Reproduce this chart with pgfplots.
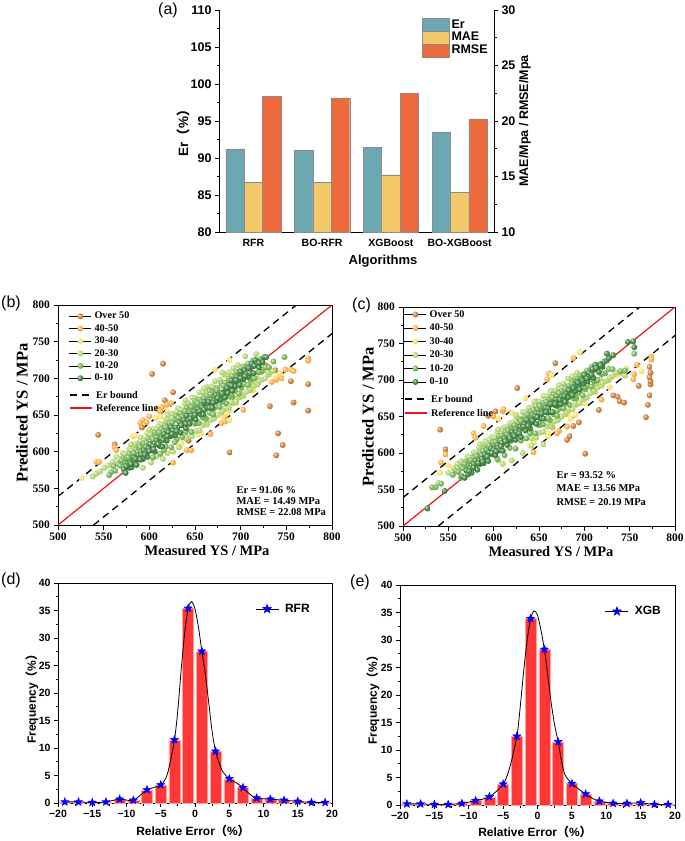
\documentclass[border=0pt]{standalone}
\usepackage{fontspec}
\setmainfont{Liberation Sans}
\newfontfamily\tnr{Liberation Serif}
\newfontfamily\cjk{Noto Sans CJK SC}
\usepackage{pgfplots}
\pgfplotsset{compat=1.18}

\definecolor{cEr}{RGB}{107,168,177}
\definecolor{cMAE}{RGB}{242,200,105}
\definecolor{cRMSE}{RGB}{236,106,60}
\definecolor{s1}{RGB}{190,105,30}
\definecolor{s2}{RGB}{246,160,40}
\definecolor{s3}{RGB}{250,218,85}
\definecolor{s4}{RGB}{165,205,90}
\definecolor{s5}{RGB}{95,165,55}
\definecolor{s6}{RGB}{30,110,30}
\definecolor{barred}{RGB}{255,55,55}
\definecolor{refred}{RGB}{240,20,20}
\colorlet{pgfballcol}{black}

\pgfdeclareradialshading[pgfballcol]{myball}{\pgfqpoint{-12bp}{12bp}}{%
  color(0bp)=(pgfballcol!15!white); color(12bp)=(pgfballcol!70!white);
  color(30bp)=(pgfballcol); color(50bp)=(pgfballcol!80!black); color(70bp)=(pgfballcol!80!black)}
\pgfdeclareplotmark{sball}{%
  \pgfpathcircle{\pgfpointorigin}{\pgfplotmarksize}%
  \pgfshadepath{myball}{0}%
  \pgfusepath{}}

\pgfdeclareplotmark{fstar}{%
  \pgfpathmoveto{\pgfpointpolar{90}{\pgfplotmarksize}}%
  \pgfpathlineto{\pgfpointpolar{126}{0.42\pgfplotmarksize}}%
  \pgfpathlineto{\pgfpointpolar{162}{\pgfplotmarksize}}%
  \pgfpathlineto{\pgfpointpolar{198}{0.42\pgfplotmarksize}}%
  \pgfpathlineto{\pgfpointpolar{234}{\pgfplotmarksize}}%
  \pgfpathlineto{\pgfpointpolar{270}{0.42\pgfplotmarksize}}%
  \pgfpathlineto{\pgfpointpolar{306}{\pgfplotmarksize}}%
  \pgfpathlineto{\pgfpointpolar{342}{0.42\pgfplotmarksize}}%
  \pgfpathlineto{\pgfpointpolar{18}{\pgfplotmarksize}}%
  \pgfpathlineto{\pgfpointpolar{54}{0.42\pgfplotmarksize}}%
  \pgfpathclose
  \pgfusepathqfillstroke}

\newcommand{\fwp}[1]{{\cjk （}#1{\cjk ）}}

\pgfplotsset{
 aSt/.style={scale only axis, width=275pt, height=222pt, at={(219pt,-232pt)}, anchor=south west,
   xmin=-0.5, xmax=3.5, tick align=outside, major tick length=4pt, minor tick length=2.5pt,
   /pgf/number format/assume math mode=true,
   ticklabel style={font=\fontsize{12.5}{14}\selectfont\bfseries},
   axis line style={line width=1pt}, every tick/.style={black, line width=0.8pt},
   ybar, bar width=18.4pt},
 lgbox/.style={legend image code/.code={\draw[##1] (0pt,-6.5pt) rectangle (27pt,6.5pt);}},
 sc/.style={scale only axis, width=274pt, height=220pt, xmin=500,xmax=800,ymin=500,ymax=800,
   xtick={500,550,...,800}, ytick={500,550,...,800}, minor tick num=1, tick align=outside,
   xtick pos=left, ytick pos=left, major tick length=4.5pt, minor tick length=2.5pt,
   /pgf/number format/assume math mode=true,
   ticklabel style={font=\tnr\bfseries\fontsize{11.5}{13}\selectfont},
   axis line style={line width=1pt}, every tick/.style={black, line width=0.8pt},
   legend cell align=left,
   legend style={draw=none, fill=none, anchor=north west, inner sep=0pt,
     font=\tnr\bfseries\fontsize{10.2}{11}\selectfont, nodes={inner sep=1pt}, column sep=2pt}},
 pts/.style={only marks, mark=sball, mark size=3pt, mark options={/utils/exec={\colorlet{pgfballcol}{#1}}},
   legend image code/.code={\path (0pt,0pt) -- (22pt,0pt);
     \draw[mark repeat=2,mark phase=2,##1] plot coordinates {(0pt,0pt)(11pt,0pt)(22pt,0pt)};}},
 hst/.style={scale only axis, height=220pt, xmin=-20, xmax=20, ymin=0, ymax=40,
   xtick={-20,-15,...,20}, xticklabels={−20,−15,−10,−5,0,5,10,15,20},
   ytick={0,5,...,40}, minor tick num=1, tick align=outside, xtick pos=left, ytick pos=left,
   major tick length=4pt, minor tick length=2.5pt,
   /pgf/number format/assume math mode=true,
   ticklabel style={font=\fontsize{10.5}{12}\selectfont\bfseries},
   axis line style={line width=1pt}, every tick/.style={black, line width=0.8pt},
   legend image code/.code={\draw[mark repeat=2,mark phase=2,##1] plot coordinates {(0pt,0pt)(11.5pt,0pt)(23pt,0pt)};},
   legend style={draw=none, fill=none, anchor=west, inner sep=0pt,
     font=\fontsize{12}{14}\selectfont\bfseries, nodes={inner sep=0pt}, column sep=6pt}},
 hbar/.style={ybar, bar width=1.6, fill=barred, draw=barred!45!white, line width=0.5pt, forget plot},
 hcur/.style={black, line width=0.8pt, smooth, mark=none, forget plot},
 hstar/.style={only marks, mark=fstar, mark size=4.3pt, mark options={fill=blue, draw=blue}, forget plot},
}

\begin{document}
\begin{tikzpicture}[x=1pt,y=1pt]
\useasboundingbox (0,0) rectangle (685,-841);

%================ (a)
\begin{axis}[aSt, ymin=80, ymax=110, ytick={80,85,...,110}, minor y tick num=1,
  axis y line*=left, axis x line*=bottom, xtick={0,1,2,3},
  xticklabels={RFR,BO-RFR,XGBoost,BO-XGBoost},
  x tick label style={font=\fontsize{10.5}{12}\selectfont\bfseries},
  major x tick style={draw=none}]
\addplot[fill=cEr, draw=black!45, bar shift=-18.4pt] coordinates {(0,91.25)(1,91.06)(2,91.45)(3,93.52)};
\end{axis}
\begin{axis}[aSt, ymin=10, ymax=30, ytick={10,15,...,30}, minor y tick num=1,
  axis y line*=right, axis x line=none,
  legend cell align=left,
  legend style={draw=none, fill=none, at={(axis description cs:0.738,0.966)}, anchor=north west,
    inner sep=0pt, font=\fontsize{12.5}{14}\selectfont\bfseries, nodes={inner sep=1pt}, row sep=-0.5pt, column sep=1pt}]
\addlegendimage{lgbox, fill=cEr, draw=black!45}
\addplot[lgbox, fill=cMAE, draw=black!45, bar shift=0pt] coordinates {(0,14.47)(1,14.49)(2,15.16)(3,13.56)};
\addplot[lgbox, fill=cRMSE, draw=black!45, bar shift=18.4pt] coordinates {(0,22.2)(1,22.08)(2,22.53)(3,20.19)};
\legend{Er,MAE,RMSE}
\end{axis}
\node[font=\fontsize{16}{18}\selectfont] at (168,-10) {(a)};
\node[rotate=90, font=\fontsize{13.5}{15}\selectfont\bfseries] at (183,-130) {Er\fwp{\%}};
\node[rotate=90, font=\fontsize{12.5}{15}\selectfont\bfseries] at (525,-121) {MAE/Mpa / RMSE/Mpa};
\node[font=\fontsize{13}{15}\selectfont\bfseries] at (383,-261) {Algorithms};

%================ (b)
\begin{axis}[sc, at={(58pt,-525pt)}, anchor=south west,
  legend style={at={(axis description cs:0.040,0.973)}, row sep=2.1pt}]
\addplot[pts=s1] coordinates {(615,720)(603,706)(544,623)(562,610)(626,681)(617,670)(643,615)(688,599)(695,667)(728,717)(732,662)(738,711)(741,625)(739,595)(746,609)(755,696)(758,667)(774,692)(774,656)(592,633)};
\addplot[pts=s2] coordinates {(542,586)(545,586)(562,606)(564,602)(590,639)(593,643)(597,640)(608,659)(614,661)(619,664)(624,666)(641,602)(646,602)(626,585)(679,639)(683,641)(686,643)(703,657)(695,671)(734,695)(739,698)(745,700)(749,712)(755,712)(758,710)(774,727)(774,724)(667,624)(600,648)(612,655)};
\addplot[pts=s3] coordinates {(526,564)(582,621)(585,622)(607,646)(688,725)(672,712)(634,607)(635,612)(654,624)(657,625)(681,648)(685,652)(688,657)(695,666)(714,684)(739,703)(743,707)(688,643)(612,648)(620,655)};
\addplot[pts=s4] coordinates {(538,566)(542,570)(546,573)(551,578)(555,581)(560,586)(564,593)(567,589)(571,598)(574,597)(578,604)(581,602)(584,610)(588,612)(591,619)(594,616)(598,625)(601,623)(604,631)(608,630)(611,638)(614,637)(618,644)(621,645)(625,652)(628,650)(632,659)(635,657)(639,665)(643,666)(647,674)(651,673)(655,681)(659,681)(663,688)(668,689)(672,696)(677,698)(682,705)(687,708)(692,714)(697,718)(642,620)(647,621)(651,628)(655,629)(659,636)(663,637)(667,643)(671,645)(675,650)(679,653)(683,659)(687,660)(691,666)(695,668)(699,674)(703,676)(707,682)(711,684)(715,690)(719,692)(723,698)(727,700)(731,705)(735,710)(713,695)(718,700)(709,688)(700,680)(602,585)(608,594)(615,590)(626,600)(705,730)(717,733)(721,716)(725,711)(593,578)(640,618)(620,598)(632,606)(580,610)(590,614)(600,630)(610,634)(620,650)(630,654)(640,670)(650,671)(660,686)(670,688)(680,708)(660,640)(670,650)(680,656)(690,668)(700,676)(710,686)(720,696)(730,708)};
\addplot[pts=s5] coordinates {(558,572)(561,580)(563,574)(566,583)(568,581)(571,591)(573,585)(575,591)(578,597)(580,591)(582,597)(585,603)(587,599)(589,609)(592,606)(594,611)(596,606)(599,618)(601,614)(603,619)(606,626)(608,619)(610,625)(613,631)(615,627)(617,636)(620,634)(622,639)(624,635)(627,643)(629,649)(631,644)(634,652)(636,648)(638,653)(641,660)(643,654)(645,662)(648,662)(650,669)(652,664)(655,671)(657,668)(660,675)(663,676)(666,683)(669,680)(672,686)(675,687)(679,694)(683,694)(687,700)(691,703)(695,709)(699,710)(703,716)(708,720)(713,724)(604,592)(612,597)(618,607)(624,606)(630,617)(636,620)(641,630)(646,627)(650,638)(654,639)(658,647)(662,645)(666,653)(670,651)(673,661)(677,661)(680,669)(684,666)(688,675)(691,675)(694,683)(698,679)(701,687)(704,692)(708,691)(711,698)(715,700)(719,708)(723,709)(727,715)(731,715)(736,723)(748,729)(556,568)(570,588)(577,592)(583,598)(590,606)(597,612)(604,617)(611,626)(618,633)(625,640)(632,646)(639,655)(646,661)(653,666)(660,672)(667,678)(674,684)(681,690)(688,697)(695,703)(702,709)(640,627)(650,640)(660,648)(670,658)(680,668)(690,678)(700,690)(710,700)(720,709)(628,613)(616,602)};
\addplot[pts=s6] coordinates {(572,576)(574,571)(576,584)(578,578)(579,585)(581,579)(583,592)(584,587)(586,582)(588,595)(589,590)(591,596)(593,590)(594,602)(596,598)(598,593)(599,605)(601,610)(603,602)(604,608)(606,600)(608,615)(609,611)(611,608)(613,618)(614,607)(616,624)(618,619)(619,615)(621,627)(623,621)(624,633)(626,629)(628,622)(629,633)(631,630)(633,640)(634,626)(636,638)(638,643)(639,635)(641,649)(643,643)(644,638)(646,649)(648,646)(649,655)(651,644)(653,654)(654,658)(656,651)(658,660)(659,651)(661,666)(663,660)(664,665)(666,660)(668,671)(669,660)(671,670)(673,677)(674,669)(676,676)(678,671)(679,681)(681,677)(683,674)(684,685)(686,680)(688,691)(689,686)(691,683)(693,695)(694,689)(696,702)(698,696)(699,691)(701,705)(703,699)(704,711)(706,706)(708,702)(709,714)(711,708)(713,719)(714,707)(716,725)(718,719)(720,715)(722,726)(724,722)(726,729)(728,729)(712,720)(700,709)(690,697)(660,668)(640,632)(575,580)(580,583)(585,590)(590,589)(595,596)(600,601)(605,603)(610,610)(615,616)(620,621)(625,624)(630,628)(635,636)(640,638)(645,645)(650,650)(655,655)(660,657)(665,668)(670,667)(675,673)(680,679)(685,687)(690,690)(695,697)(700,700)(705,703)(710,707)(715,717)(720,721)};
\addplot[black, line width=1.3pt, dash pattern=on 7pt off 5pt, forget plot] coordinates {(500,539)(761,800)};
\addplot[black, line width=1.3pt, dash pattern=on 7pt off 5pt, forget plot] coordinates {(539,500)(800,761)};
\addplot[refred, line width=1.2pt, forget plot] coordinates {(500,500)(800,800)};
\legend{Over 50,40-50,30-40,20-30,10-20,0-10}
\end{axis}
\draw[black, line width=1.3pt, dash pattern=on 7pt off 5pt] (70,-395) -- (92,-395);
\node[anchor=west, inner sep=0pt, font=\tnr\bfseries\fontsize{10.2}{11}\selectfont] at (96,-395) {Er bound};
\draw[refred, line width=1.3pt] (70,-408) -- (92,-408);
\node[anchor=west, inner sep=0pt, font=\tnr\bfseries\fontsize{10.2}{11}\selectfont] at (96,-408) {Reference line};
\node[font=\fontsize{16}{18}\selectfont] at (11,-303) {(b)};
\node[font=\tnr\bfseries\fontsize{14.5}{16}\selectfont] at (207,-551) {Measured YS / MPa};
\node[rotate=90, font=\tnr\bfseries\fontsize{16.5}{18}\selectfont] at (22,-413) {Predicted YS / MPa};
\node[anchor=west, font=\tnr\bfseries\fontsize{10.5}{12}\selectfont] at (233,-490) {Er = 91.06 \%};
\node[anchor=west, font=\tnr\bfseries\fontsize{10.5}{12}\selectfont] at (233,-501) {MAE = 14.49 MPa};
\node[anchor=west, font=\tnr\bfseries\fontsize{10.5}{12}\selectfont] at (233,-512) {RMSE = 22.08 MPa};

%================ (c)
\begin{axis}[sc, at={(403pt,-526pt)}, anchor=south west, width=272pt, height=219pt,
  legend style={at={(axis description cs:0.004,0.99)}, row sep=3.2pt}]
\addplot[pts=s1] coordinates {(541,632)(547,605)(594,651)(602,657)(626,689)(668,723)(701,599)(694,642)(681,618)(684,623)(688,637)(716,659)(732,679)(737,677)(739,671)(744,669)(768,649)(770,666)(772,679)(773,694)(773,698)(772,704)(773,710)(772,718)(760,692)};
\addplot[pts=s2] coordinates {(542,587)(547,598)(578,627)(580,621)(589,637)(610,657)(611,660)(659,701)(661,709)(688,730)(672,630)(670,627)(644,601)(719,673)(755,708)(754,701)(774,732)(774,728)(758,721)(600,650)(665,635)(681,636)};
\addplot[pts=s3] coordinates {(541,573)(550,583)(635,675)(664,707)(695,738)(644,614)(682,653)(685,647)(660,627)(660,623)(746,716)(728,690)(736,707)(763,712)(620,655)(605,647)(640,610)(700,668)(712,683)(690,652)};
\addplot[pts=s4] coordinates {(539,559)(550,573)(556,579)(560,585)(564,589)(567,586)(571,595)(574,594)(578,601)(581,599)(584,607)(588,609)(591,616)(594,613)(598,622)(601,620)(604,628)(608,627)(611,635)(614,634)(618,641)(621,642)(625,649)(628,647)(632,656)(635,654)(639,662)(643,663)(647,671)(651,670)(655,678)(659,678)(663,685)(668,686)(672,693)(677,695)(682,702)(687,705)(692,710)(642,620)(647,621)(651,628)(655,629)(659,636)(663,637)(667,643)(671,645)(675,650)(679,653)(683,659)(687,660)(691,666)(695,668)(699,674)(703,676)(707,682)(711,684)(715,690)(719,692)(723,698)(727,700)(731,705)(735,710)(713,695)(718,700)(709,688)(740,710)(745,706)(728,703)(610,585)(620,590)(632,600)(642,610)(655,612)(605,590)(585,612)(595,618)(605,632)(615,636)(625,652)(635,656)(645,670)(660,640)(670,650)(680,656)(690,668)(700,676)(710,686)(720,696)};
\addplot[pts=s5] coordinates {(555,570)(558,576)(561,574)(564,581)(566,579)(569,588)(571,583)(574,589)(577,594)(579,589)(582,595)(585,601)(587,597)(589,606)(592,604)(594,609)(596,605)(599,615)(601,612)(603,617)(606,623)(608,617)(610,623)(613,629)(615,625)(617,633)(620,632)(622,637)(624,633)(627,641)(629,646)(631,642)(634,650)(636,646)(638,651)(641,657)(643,652)(645,660)(648,660)(650,666)(652,662)(655,669)(657,666)(660,673)(663,674)(666,680)(669,678)(672,684)(675,685)(679,691)(683,692)(687,698)(691,701)(695,706)(699,708)(703,713)(708,718)(604,592)(612,597)(618,607)(624,606)(630,617)(636,620)(641,630)(646,627)(650,638)(654,639)(658,647)(662,645)(666,653)(670,651)(673,661)(677,661)(680,669)(684,666)(688,675)(691,675)(694,683)(698,679)(701,687)(704,692)(708,691)(711,698)(715,700)(719,708)(723,709)(727,715)(731,715)(740,712)(745,713)(755,736)(542,558)(536,553)(532,553)(564,566)(568,585)(575,590)(581,596)(588,603)(595,610)(602,615)(609,624)(616,631)(623,638)(630,644)(637,653)(644,659)(651,664)(658,670)(665,676)(672,682)(679,688)(686,695)(693,701)(700,707)(640,627)(650,640)(660,648)(670,658)(680,668)(690,678)(700,690)(710,700)(720,709)};
\addplot[pts=s6] coordinates {(565,568)(568,566)(570,576)(572,571)(574,579)(576,573)(578,585)(580,580)(582,577)(584,590)(585,585)(587,592)(589,586)(590,598)(592,594)(594,589)(595,601)(597,606)(599,598)(600,604)(602,597)(604,611)(605,607)(607,604)(609,614)(610,603)(612,620)(614,615)(615,611)(617,623)(619,617)(620,629)(622,625)(624,618)(625,629)(627,626)(629,636)(630,622)(632,634)(634,639)(635,631)(637,645)(639,639)(640,634)(642,645)(644,642)(645,651)(647,640)(649,650)(650,654)(652,647)(654,656)(655,647)(657,662)(659,656)(660,661)(662,656)(664,669)(665,656)(667,666)(669,673)(670,665)(672,672)(674,667)(675,677)(677,673)(679,670)(680,681)(682,676)(684,687)(685,682)(687,679)(689,691)(690,685)(692,698)(694,692)(695,687)(697,701)(699,695)(700,707)(702,702)(704,698)(705,710)(707,704)(709,715)(710,703)(712,721)(714,715)(716,711)(718,722)(720,718)(722,725)(725,727)(727,730)(725,736)(748,752)(754,753)(755,745)(732,734)(527,524)(546,548)(573,575)(578,580)(583,586)(588,588)(593,595)(598,600)(603,602)(608,609)(613,616)(618,620)(623,623)(628,627)(633,636)(638,637)(643,644)(648,649)(653,654)(658,656)(663,667)(668,667)(673,673)(678,678)(683,686)(688,689)(693,696)(698,699)(703,702)(708,707)(713,716)(718,720)};
\addplot[black, line width=1.3pt, dash pattern=on 7pt off 5pt, forget plot] coordinates {(500,539)(761,800)};
\addplot[black, line width=1.3pt, dash pattern=on 7pt off 5pt, forget plot] coordinates {(539,500)(800,761)};
\addplot[refred, line width=1.2pt, forget plot] coordinates {(500,500)(800,800)};
\legend{Over 50,40-50,30-40,20-30,10-20,0-10}
\end{axis}
\draw[black, line width=1.3pt, dash pattern=on 7pt off 5pt] (405,-399) -- (427,-399);
\node[anchor=west, inner sep=0pt, font=\tnr\bfseries\fontsize{10.2}{11}\selectfont] at (431,-399) {Er bound};
\draw[refred, line width=1.3pt] (405,-413) -- (427,-413);
\node[anchor=west, inner sep=0pt, font=\tnr\bfseries\fontsize{10.2}{11}\selectfont] at (431,-413) {Reference line};
\node[font=\fontsize{16}{18}\selectfont] at (361.5,-305.5) {(c)};
\node[font=\tnr\bfseries\fontsize{14.5}{16}\selectfont] at (551,-552) {Measured YS / MPa};
\node[rotate=90, font=\tnr\bfseries\fontsize{16.5}{18}\selectfont] at (368,-417) {Predicted YS / MPa};
\node[anchor=west, font=\tnr\bfseries\fontsize{10.5}{12}\selectfont] at (553,-475) {Er = 93.52 \%};
\node[anchor=west, font=\tnr\bfseries\fontsize{10.5}{12}\selectfont] at (553,-488.5) {MAE = 13.56 MPa};
\node[anchor=west, font=\tnr\bfseries\fontsize{10.5}{12}\selectfont] at (553,-502) {RMSE = 20.19 MPa};

%================ (d)
\begin{axis}[hst, at={(58pt,-803pt)}, anchor=south west, width=274pt,
  legend style={at={(axis description cs:0.719,0.882)}}]
\addplot[hbar] coordinates {(-19,0.2)(-17,0.2)(-15,0.1)(-13,0.2)(-11,0.7)(-9,0.5)(-7,2.4)(-5,3.3)(-3,11.5)(-1,35.4)(1,27.6)(3,9.4)(5,4.4)(7,2.8)(9,0.9)(11,0.7)(13,0.5)(15,0.3)(17,0.1)(19,0.1)};
\addplot[hcur] coordinates {(-19,0.2)(-17,0.2)(-15,0.1)(-13,0.2)(-11,0.7)(-9,0.5)(-7,2.4)(-5,3.3)(-4,5.4)(-3,11.5)(-2.5,17)(-2,24.5)(-1.5,31)(-1,35.4)(-0.5,36.6)(0,35.3)(0.5,32)(1,27.6)(1.5,23.5)(2,18.3)(2.5,13)(3,9.4)(3.5,7.4)(4,5.8)(5,4.4)(6,3.7)(7,2.8)(8,1.6)(9,0.9)(11,0.7)(13,0.5)(15,0.3)(17,0.1)(19,0.1)};
\addplot[hstar] coordinates {(-19,0.2)(-17,0.2)(-15,0.1)(-13,0.2)(-11,0.7)(-9,0.5)(-7,2.4)(-5,3.3)(-3,11.5)(-1,35.4)(1,27.6)(3,9.4)(5,4.4)(7,2.8)(9,0.9)(11,0.7)(13,0.5)(15,0.3)(17,0.1)(19,0.1)};
\addlegendimage{black, line width=0.8pt, mark=fstar, mark size=4.3pt, mark options={fill=blue, draw=blue}}
\legend{RFR}
\end{axis}
\node[font=\fontsize{16}{18}\selectfont] at (11,-580) {(d)};
\node[rotate=90, font=\fontsize{12}{14}\selectfont\bfseries] at (32,-696) {Frequency\fwp{\%}};
\node[font=\fontsize{12}{14}\selectfont\bfseries] at (193,-831) {Relative Error\fwp{\%}};

%================ (e)
\begin{axis}[hst, at={(400pt,-805pt)}, anchor=south west, width=275pt,
  legend style={at={(axis description cs:0.745,0.880)}}]
\addplot[hbar] coordinates {(-19,0.2)(-17,0.2)(-15,0.1)(-13,0.1)(-11,0.3)(-9,0.8)(-7,1.5)(-5,3.8)(-3,12.5)(-1,33.9)(1,28.3)(3,11.5)(5,3.9)(7,2.0)(9,0.7)(11,0.3)(13,0.3)(15,0.4)(17,0.1)(19,0.1)};
\addplot[hcur] coordinates {(-19,0.2)(-17,0.2)(-15,0.1)(-13,0.1)(-11,0.3)(-9,0.8)(-7,1.5)(-5,3.8)(-4,7)(-3,12.5)(-2.5,18)(-2,24.5)(-1.5,30)(-1,33.9)(-0.5,35.3)(0,34.5)(0.5,31.8)(1,28.3)(1.5,23.5)(2,18.5)(2.5,14.5)(3,11.5)(3.5,8)(4,5.5)(5,3.9)(6,2.9)(7,2.0)(8,1.2)(9,0.7)(11,0.3)(13,0.3)(15,0.4)(17,0.1)(19,0.1)};
\addplot[hstar] coordinates {(-19,0.2)(-17,0.2)(-15,0.1)(-13,0.1)(-11,0.3)(-9,0.8)(-7,1.5)(-5,3.8)(-3,12.5)(-1,33.9)(1,28.3)(3,11.5)(5,3.9)(7,2.0)(9,0.7)(11,0.3)(13,0.3)(15,0.4)(17,0.1)(19,0.1)};
\addlegendimage{black, line width=0.8pt, mark=fstar, mark size=4.3pt, mark options={fill=blue, draw=blue}}
\legend{XGB}
\end{axis}
\node[font=\fontsize{16}{18}\selectfont] at (360,-582) {(e)};
\node[rotate=90, font=\fontsize{12}{14}\selectfont\bfseries] at (373,-697) {Frequency\fwp{\%}};
\node[font=\fontsize{12}{14}\selectfont\bfseries] at (535,-832) {Relative Error\fwp{\%}};
\end{tikzpicture}
\end{document}
